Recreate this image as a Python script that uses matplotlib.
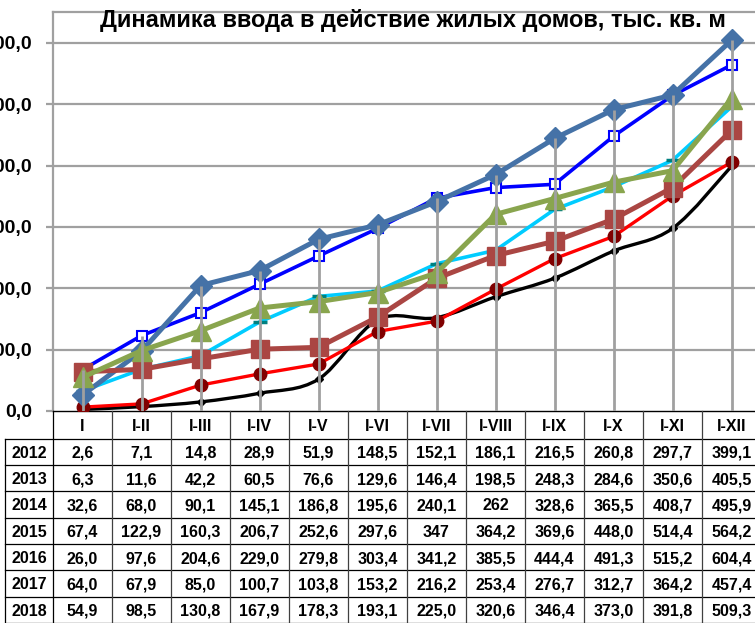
import numpy as np
import matplotlib
matplotlib.use("Agg")
import matplotlib.pyplot as plt
from matplotlib.path import Path
from matplotlib.patches import PathPatch
from matplotlib.lines import Line2D

plt.rcParams['font.family'] = ['Liberation Sans', 'DejaVu Sans']

# data
periods = ['I', 'I-II', 'I-III', 'I-IV', 'I-V', 'I-VI', 'I-VII', 'I-VIII',
           'I-IX', 'I-X', 'I-XI', 'I-XII']
years = ['2012', '2013', '2014', '2015', '2016', '2017', '2018']
v2012 = [2.6, 7.1, 14.8, 28.9, 51.9, 148.5, 152.1, 186.1, 216.5, 260.8, 297.7, 399.1]
v2013 = [6.3, 11.6, 42.2, 60.5, 76.6, 129.6, 146.4, 198.5, 248.3, 284.6, 350.6, 405.5]
v2014 = [32.6, 68.0, 90.1, 145.1, 186.8, 195.6, 240.1, 262, 328.6, 365.5, 408.7, 495.9]
v2015 = [67.4, 122.9, 160.3, 206.7, 252.6, 297.6, 347, 364.2, 369.6, 448.0, 514.4, 564.2]
v2016 = [26.0, 97.6, 204.6, 229.0, 279.8, 303.4, 341.2, 385.5, 444.4, 491.3, 515.2, 604.4]
v2017 = [64.0, 67.9, 85.0, 100.7, 103.8, 153.2, 216.2, 253.4, 276.7, 312.7, 364.2, 457.4]
v2018 = [54.9, 98.5, 130.8, 167.9, 178.3, 193.1, 225.0, 320.6, 346.4, 373.0, 391.8, 509.3]
# text in table as printed
txt2014 = ['32,6', '68,0', '90,1', '145,1', '186,8', '195,6', '240,1', '262',
           '328,6', '365,5', '408,7', '495,9']
txt2015 = ['67,4', '122,9', '160,3', '206,7', '252,6', '297,6', '347', '364,2',
           '369,6', '448,0', '514,4', '564,2']

series = [v2012, v2013, v2014, v2015, v2016, v2017, v2018]

W, H = 755, 623
fig = plt.figure(figsize=(W / 100, H / 100), dpi=100)


def fx(p):
    return p / W


def fy(p):
    return (H - p) / H


ax = fig.add_axes([fx(53), fy(411), 708 / W, (411 - 12.3) / H])
x = np.arange(len(periods))
ax.set_xlim(-0.5, 11.5)
ax.set_ylim(0, 650)

grid_c = '#a0a0a0'
for t in range(100, 700, 100):
    ax.axhline(t, color=grid_c, lw=1.6, zorder=1)


# smoothed line like Excel for 2012
def smooth_path(xs, ys):
    pts = np.column_stack([xs, ys]).astype(float)
    n = len(pts)
    verts = [pts[0]]
    codes = [Path.MOVETO]
    for i in range(n - 1):
        p0 = pts[i - 1] if i > 0 else pts[i]
        p1 = pts[i]
        p2 = pts[i + 1]
        p3 = pts[i + 2] if i + 2 < n else pts[i + 1]
        c1 = p1 + (p2 - p0) / 6
        c2 = p2 - (p3 - p1) / 6
        verts += [c1, c2, p2]
        codes += [Path.CURVE4] * 3
    return Path(verts, codes)


ax.add_patch(PathPatch(smooth_path(x, v2012), fill=False, edgecolor='black',
                       lw=2.4, zorder=3))
ax.plot(x, v2012, ls='none', marker='D', ms=4, color='black', zorder=3)

ax.plot(x, v2013, color='#ff0000', lw=2.4, marker='o', ms=9,
        mfc='#800000', mec='#800000', zorder=4)
ax.plot(x, v2014, color='#00ccff', lw=2.6, marker='_', ms=10, mew=2.5,
        mec='#008080', zorder=5)
ax.plot(x, v2015, color='#0000ff', lw=2.6, marker='s', ms=7.5, mfc='white',
        mec='#0000ff', mew=1.5, zorder=6)
ax.plot(x, v2016, color='#4572a7', lw=3.6, marker='D', ms=11, zorder=7)
ax.plot(x, v2017, color='#aa4643', lw=3.6, marker='s', ms=13, zorder=8)
ax.plot(x, v2018, color='#89a54e', lw=3.6, marker='^', ms=14, zorder=9)

# drop lines
tops = np.max(np.array(series), axis=0)
ax.vlines(x, 0, tops, color=grid_c, lw=2, zorder=10)

ax.spines['right'].set_visible(False)
ax.spines['left'].set_color(grid_c)
ax.spines['left'].set_linewidth(1.6)
ax.spines['top'].set_color(grid_c)
ax.spines['top'].set_linewidth(1.6)
ax.spines['bottom'].set_color('black')
ax.spines['bottom'].set_linewidth(1)

ax.set_xticks([])
ax.set_yticks(range(0, 700, 100))
ax.set_yticklabels([f'{t},0' for t in range(0, 700, 100)],
                   fontsize=14, fontweight='bold')
ax.tick_params(axis='y', direction='out', length=5, width=1.6,
               color=grid_c, pad=10)

fig.text(fx(413), fy(27), 'Динамика ввода в действие жилых домов, тыс. кв. м',
         ha='center', va='baseline', fontsize=17, fontweight='bold')

# data table
row_h = 26.3
row0 = 438.85
tab_bottom = row0 + row_h * 7
cat_px = [53 + 59 * (i + 0.5) for i in range(len(periods))]


def hline(y, x0, x1):
    fig.add_artist(Line2D([fx(x0), fx(x1)], [fy(y), fy(y)], color='black',
                          lw=0.9, transform=fig.transFigure))


def vline(xp, y0, y1, c='black'):
    fig.add_artist(Line2D([fx(xp), fx(xp)], [fy(y0), fy(y1)], color=c,
                          lw=0.9, transform=fig.transFigure))


for k in range(8):
    hline(row0 + k * row_h, 5, W + 10)
vline(5, row0, tab_bottom)
vline(53, 411, tab_bottom)
for i in range(1, len(periods)):
    vline(53 + 59 * i, 411, tab_bottom, c='#404040')

base = 5.8  # baseline offset below the row centre, px
for i, p in enumerate(periods):
    fig.text(fx(cat_px[i]), fy((411 + row0) / 2 + base), p, ha='center',
             va='baseline', fontsize=11.5, fontweight='bold')

cell_txt = []
for yr, vals in zip(years, series):
    if yr == '2014':
        cell_txt.append(txt2014)
    elif yr == '2015':
        cell_txt.append(txt2015)
    else:
        cell_txt.append([f'{v:.1f}'.replace('.', ',') for v in vals])

for r, yr in enumerate(years):
    yc = row0 + row_h * (r + 0.5) + base
    fig.text(fx(29), fy(yc), yr, ha='center', va='baseline', fontsize=11.5,
             fontweight='bold')
    for i, t in enumerate(cell_txt[r]):
        fig.text(fx(cat_px[i]), fy(yc), t, ha='center', va='baseline',
                 fontsize=11.5, fontweight='bold')

fig.savefig('out.png', dpi=100)
